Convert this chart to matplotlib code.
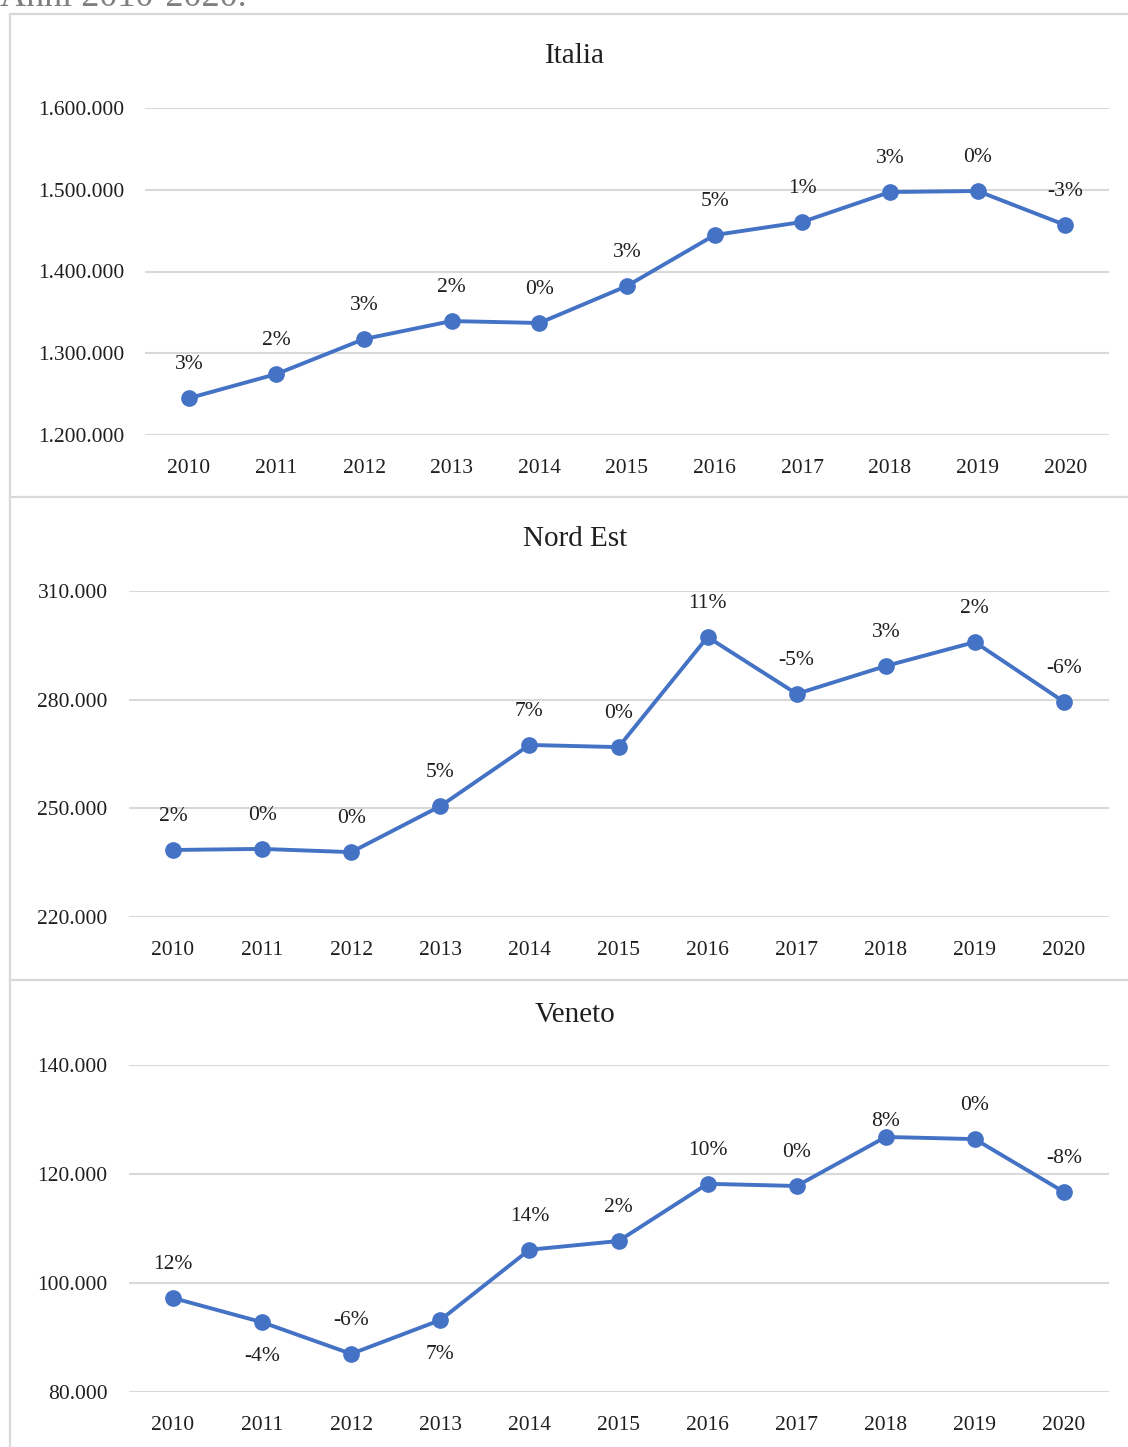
import matplotlib
matplotlib.use("Agg")
import matplotlib.pyplot as plt
from matplotlib.lines import Line2D
from matplotlib.patches import Rectangle

plt.rcParams.update({"font.family": ["Liberation Serif", "DejaVu Serif"]})

years = [str(y) for y in range(2010, 2021)]

italia = [1245000, 1274600, 1317400, 1339400, 1337000, 1382300,
          1444600, 1460600, 1497200, 1498500, 1456900]
italia_pct = ["3%", "2%", "3%", "2%", "0%", "3%", "5%", "1%", "3%", "0%", "-3%"]

nordest = [238500, 238800, 237900, 250600, 267500, 266900,
           297300, 281600, 289300, 295900, 279400]
nordest_pct = ["2%", "0%", "0%", "5%", "7%", "0%", "11%", "-5%", "3%", "2%", "-6%"]

veneto = [97250, 92800, 87000, 93200, 106100, 107700,
          118200, 117800, 126800, 126400, 116700]
veneto_pct = ["12%", "-4%", "-6%", "7%", "14%", "2%", "10%", "0%", "8%", "0%", "-8%"]

W, H = 1128, 1447
BLUE = "#4472C4"
GRID = "#d9d9d9"
TXT = "#1f1f1f"

fig = plt.figure(figsize=(W / 100, H / 100), dpi=100)


def px_axes(left, right, top, bottom):
    return fig.add_axes([left / W, 1 - bottom / H, (right - left) / W, (bottom - top) / H])


def thousands(v):
    return f"{int(v):,}".replace(",", ".")


def panel(box, title, title_y, vals, labels, yticks, offsets=None):
    ax = px_axes(*box)
    x = list(range(len(years)))
    ax.plot(x, vals, color=BLUE, lw=2.8, marker="o", ms=11, zorder=3,
            solid_capstyle="round")
    if offsets is None:
        offsets = [24] * len(vals)
    for xi, v, lab, off in zip(x, vals, labels, offsets):
        ax.annotate(lab, (xi, v), xytext=(0, off), textcoords="offset points",
                    ha="center", va="center", fontsize=15.5, color=TXT)
    ax.set_xlim(-0.5, len(years) - 0.5)
    ax.set_ylim(yticks[0], yticks[-1])
    ax.set_yticks(yticks)
    ax.set_yticklabels([thousands(t) for t in yticks])
    ax.set_xticks(x)
    ax.set_xticklabels(years)
    ax.tick_params(length=0, labelsize=15.5, colors=TXT)
    ax.tick_params(axis="y", pad=15)
    ax.tick_params(axis="x", pad=17)
    for s in ax.spines.values():
        s.set_visible(False)
    ax.grid(axis="y", color=GRID, lw=1.5)
    ax.set_axisbelow(True)
    fig.text(575 / W, 1 - title_y / H, title, ha="center", va="center",
             fontsize=21, color=TXT)
    return ax


panel((145, 1109, 108, 435), "Italia", 56, italia, italia_pct,
      [1200000, 1300000, 1400000, 1500000, 1600000])
panel((128.5, 1108.5, 591, 917), "Nord Est", 539, nordest, nordest_pct,
      [220000, 250000, 280000, 310000])
panel((128.5, 1108.5, 1065, 1392), "Veneto", 1015, veneto, veneto_pct,
      [80000, 100000, 120000, 140000],
      offsets=[24, -25, 24, -25, 24, 24, 24, 24, 11, 24, 24])

# frame and separators
fig.patches.append(Rectangle((10 / W, -0.1), 1.2, 1 - 14 / H + 0.1,
                             transform=fig.transFigure, fill=False,
                             edgecolor=GRID, lw=1.6))
for yy in (497, 980):
    fig.lines.append(Line2D([10 / W, 1.0], [1 - yy / H] * 2,
                            transform=fig.transFigure, color=GRID, lw=1.6))

# caption above the frame, cropped at the top edge as in the source
fig.text(0 / W, 1 - 6 / H, "Anni 2010-2020.", ha="left", va="baseline",
         fontsize=26, color="#7f7f7f")

fig.savefig("out.png", dpi=100)
